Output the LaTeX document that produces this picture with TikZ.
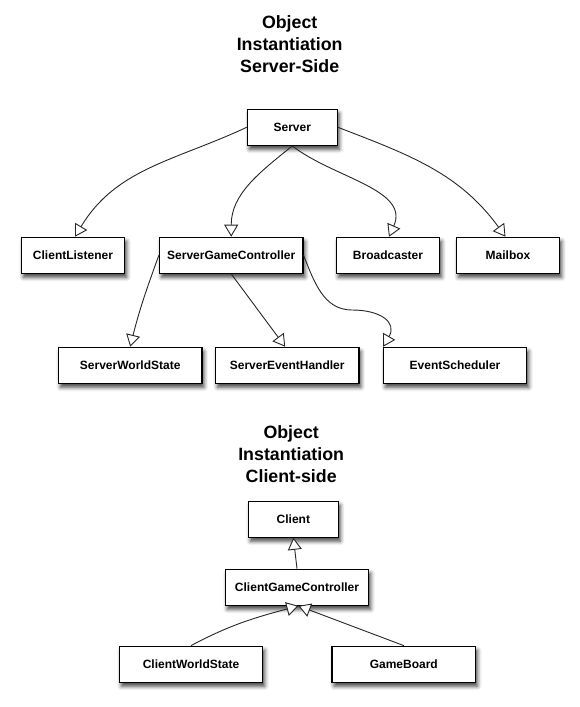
\documentclass[tikz,border=0pt]{standalone}
\usepackage{fontspec}
\setmainfont{Liberation Sans}
\usetikzlibrary{arrows.meta,shadows.blur,calc}
\begin{document}
\begin{tikzpicture}[x=1pt,y=1pt,
  box/.style={draw=black, line width=1.2pt, fill=white, minimum height=36pt, inner sep=0pt,
    font=\fontsize{12}{14}\selectfont\bfseries,
    blur shadow={shadow xshift=2pt, shadow yshift=-4pt, shadow blur radius=4pt, shadow opacity=75}},
  wide/.style={box, minimum width=143.5pt},
  mid/.style={box, minimum width=103.4pt},
  small/.style={box, minimum width=90pt},
  title/.style={font=\fontsize{17.8}{22}\selectfont\bfseries, align=center, inner sep=0pt, anchor=base},
  conn/.style={draw=black!85, line width=0.9pt, -{Triangle[fill=white, length=12pt, width=14pt]}},
]
\useasboundingbox (0,0) rectangle (580,-707);

% titles (anchor base = baseline of the last line)
\node[title] (t1) at (289.7,-72) {Object\\Instantiation\\Server-Side};
\node[title] (t2) at (291.2,-482) {Object\\Instantiation\\Client-side};

% server side
\node[small] (srv) at (292.3,-127.3) {Server};
\node[mid]  (cl)  at (73,-255.3) {ClientListener};
\node[wide] (sgc) at (231.2,-255.3) {ServerGameController};
\node[mid]  (bc)  at (388,-255.3) {Broadcaster};
\node[mid]  (mb)  at (508,-255.3) {Mailbox};
\node[wide] (sws) at (130.2,-365.3) {ServerWorldState};
\node[wide] (seh) at (287.2,-365.3) {ServerEventHandler};
\node[wide] (es)  at (455,-365.3) {EventScheduler};

% client side
\node[small] (cli) at (293.4,-519.2) {Client};
\node[wide] (cgc) at (297,-587.3) {ClientGameController};
\node[wide] (cws) at (191,-664.2) {ClientWorldState};
\node[wide] (gb)  at (403.8,-664.2) {GameBoard};

\coordinate (esbend) at (352,-310);

% server connectors
\path[conn] (srv.west) to[out=-155,in=59] ($(cl.north)+(2,0)$);
\path[conn] (srv.south) to[out=-141,in=90] (sgc.north);
\path[conn] (srv.south) to[out=-38,in=66] ($(bc.north)+(1,0)$);
\path[conn] (srv.east) to[out=-21,in=126] ($(mb.north)+(-2.5,0)$);
\path[conn] (sgc.west) to[out=-110,in=76] (sws.north);
\path[conn] (sgc.south) -- ($(seh.north)+(-2,0)$);
\path[conn] (sgc.east) to[out=-68,in=180] (esbend) to[out=0,in=60,looseness=1.5] ($(es.north west)+(0.5,0)$);

% client connectors
\path[conn] (cgc.north) -- (cli.south);
\path[conn] (cws.north) to[out=28,in=195] ($(cgc.south)+(1.5,0)$);
\path[conn] (gb.north) -- ($(cgc.south)+(1.5,0)$);
\end{tikzpicture}
\end{document}
